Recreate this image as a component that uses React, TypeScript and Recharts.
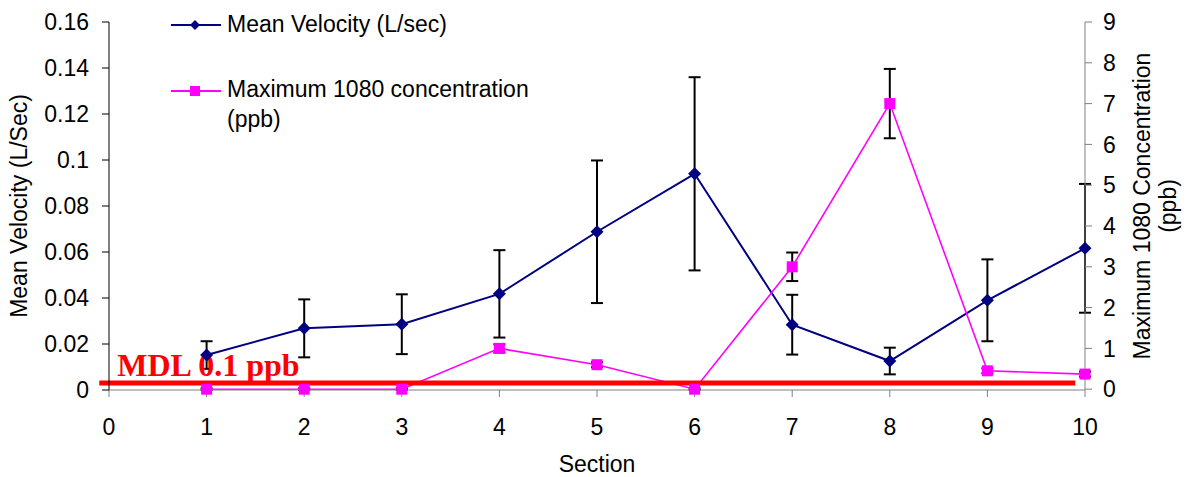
import React from 'react';
import { ComposedChart, Line, XAxis, YAxis, ErrorBar, ReferenceLine } from 'recharts';

const sections = [1, 2, 3, 4, 5, 6, 7, 8, 9, 10];
const meanVelocity = [0.0152, 0.0268, 0.0286, 0.0418, 0.0688, 0.094, 0.0284, 0.0126, 0.039, 0.0616];
const velocityError = [0.006, 0.0126, 0.013, 0.019, 0.031, 0.042, 0.013, 0.0058, 0.0178, 0.028];
const maxConcentration = [0, 0, 0, 1, 0.6, 0, 3, 7, 0.45, 0.37];
const concentrationError = [0.02, 0.02, 0.02, 0.1, 0.06, 0.02, 0.35, 0.85, 0.06, 0.06];

const xTicks = [0, 1, 2, 3, 4, 5, 6, 7, 8, 9, 10];
const velocityTicks = [0, 0.02, 0.04, 0.06, 0.08, 0.1, 0.12, 0.14, 0.16];
const concentrationTicks = [0, 1, 2, 3, 4, 5, 6, 7, 8, 9];

const mdlLevel = 0.15;
const mdlFrom = -0.1;
const mdlTo = 9.9;

const data = sections.map((s, i) => ({
  section: s,
  velocity: meanVelocity[i],
  vErr: velocityError[i],
  conc: maxConcentration[i],
  cErr: concentrationError[i],
}));

const FONT = '"Liberation Sans", Arial, sans-serif';
const FS = 23;
const NAVY = '#000080';
const MAGENTA = '#FF00FF';

const Diamond = (props: any) => {
  const { cx, cy } = props;
  if (cx == null || cy == null) return null;
  const r = 6.5;
  return <path d={`M${cx},${cy - r}L${cx + r},${cy}L${cx},${cy + r}L${cx - r},${cy}Z`} fill={NAVY} />;
};

const Square = (props: any) => {
  const { cx, cy } = props;
  if (cx == null || cy == null) return null;
  return <rect x={cx - 5.5} y={cy - 5.5} width={11} height={11} fill={MAGENTA} />;
};

// legend sits over the plot, drawn apart so it takes no room from it
const ChartLegend = () => (
  <svg width={600} height={140} style={{ position: 'absolute', left: 0, top: 0, pointerEvents: 'none' }}>
    <line x1={171} y1={25} x2={221} y2={25} stroke={NAVY} strokeWidth={2} />
    <path d="M195,20L200,25L195,30L190,25Z" fill={NAVY} />
    <text x={227} y={24} fontSize={FS} fontFamily={FONT} dominantBaseline="central">Mean Velocity (L/sec)</text>
    <line x1={171} y1={91} x2={221} y2={91} stroke={MAGENTA} strokeWidth={2} />
    <rect x={190} y={86} width={10} height={10} fill={MAGENTA} />
    <text x={227} y={89} fontSize={FS} fontFamily={FONT} dominantBaseline="central">Maximum 1080 concentration</text>
    <text x={227} y={119} fontSize={FS} fontFamily={FONT} dominantBaseline="central">(ppb)</text>
  </svg>
);

const LeftLabel = ({ viewBox }: any) => {
  const x = viewBox.x + 19;
  const y = viewBox.y + viewBox.height / 2;
  return (
    <text x={x} y={y} transform={`rotate(-90 ${x} ${y})`} textAnchor="middle" dominantBaseline="central" fontSize={FS} fontFamily={FONT}>
      Mean Velocity (L/Sec)
    </text>
  );
};

const RightLabel = ({ viewBox }: any) => {
  const y = viewBox.y + viewBox.height / 2;
  const x1 = viewBox.x + 57;
  const x2 = viewBox.x + 83;
  return (
    <g>
      <text x={x1} y={y} transform={`rotate(-90 ${x1} ${y})`} textAnchor="middle" dominantBaseline="central" fontSize={FS} fontFamily={FONT}>
        Maximum 1080 Concentration
      </text>
      <text x={x2} y={y} transform={`rotate(-90 ${x2} ${y})`} textAnchor="middle" dominantBaseline="central" fontSize={FS} fontFamily={FONT}>
        (ppb)
      </text>
    </g>
  );
};

const BottomLabel = ({ viewBox }: any) => (
  <text x={viewBox.x + viewBox.width / 2} y={viewBox.y + 74} textAnchor="middle" dominantBaseline="central" fontSize={FS} fontFamily={FONT}>
    Section
  </text>
);

const MdlLabel = ({ viewBox }: any) => (
  <text x={viewBox.x + 18} y={viewBox.y - 7} fill="#FF0000" fontSize={32} fontWeight="bold" fontFamily='"Liberation Serif", "Times New Roman", serif'>
    MDL 0.1 ppb
  </text>
);

export default function App() {
  const tickStyle = { fontSize: FS, fill: '#000', fontFamily: FONT };
  return (
    <div style={{ position: 'absolute', left: 0, top: 0, width: 1192, height: 477, background: '#fff' }}>
      <ComposedChart width={1192} height={477} data={data} margin={{ top: 22, right: 0, bottom: 0, left: 0 }}>
        <XAxis
          dataKey="section"
          type="number"
          domain={[0, 10]}
          ticks={xTicks}
          interval={0}
          height={87}
          tickSize={7}
          tickMargin={22}
          tick={tickStyle}
          stroke="#808080"
          label={<BottomLabel />}
        />
        <YAxis
          yAxisId="left"
          domain={[0, 0.16]}
          ticks={velocityTicks}
          interval={0}
          width={109}
          tickSize={7}
          tickMargin={13}
          tick={tickStyle}
          stroke="#000"
          label={<LeftLabel />}
        />
        <YAxis
          yAxisId="right"
          orientation="right"
          domain={[0, 9]}
          ticks={concentrationTicks}
          interval={0}
          width={107}
          tickSize={7}
          tickMargin={11}
          tick={{ ...tickStyle, textAnchor: 'start' }}
          stroke="#808080"
          label={<RightLabel />}
        />
        <Line
          yAxisId="left"
          dataKey="velocity"
          stroke={NAVY}
          strokeWidth={2}
          dot={<Diamond />}
          activeDot={false}
          isAnimationActive={false}
        >
          <ErrorBar dataKey="vErr" direction="y" stroke="#000" strokeWidth={2} width={6} />
        </Line>
        <Line
          yAxisId="right"
          dataKey="conc"
          stroke={MAGENTA}
          strokeWidth={1.6}
          dot={<Square />}
          activeDot={false}
          isAnimationActive={false}
        >
          <ErrorBar dataKey="cErr" direction="y" stroke="#000" strokeWidth={2} width={6} />
        </Line>
        <ReferenceLine
          yAxisId="right"
          segment={[{ x: mdlFrom, y: mdlLevel }, { x: mdlTo, y: mdlLevel }]}
          stroke="#FF0000"
          strokeWidth={5}
          ifOverflow="visible"
          label={<MdlLabel />}
        />
      </ComposedChart>
      <ChartLegend />
    </div>
  );
}
